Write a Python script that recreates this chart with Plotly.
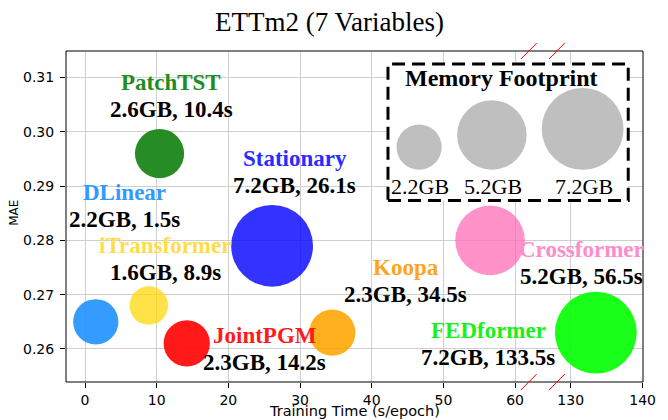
import math
import plotly.graph_objects as go

# ---- data -------------------------------------------------------------
models = ["PatchTST", "DLinear", "iTransformer", "JointPGM",
          "Stationary", "Koopa", "Crossformer", "FEDformer"]
train_time = [10.4, 1.5, 8.9, 14.2, 26.1, 34.5, 56.5, 133.5]   # s/epoch
memory_gb = [2.6, 2.2, 1.6, 2.3, 7.2, 2.3, 5.2, 7.2]
mae = [0.296, 0.265, 0.268, 0.261, 0.279, 0.263, 0.280, 0.263]

footprint_gb = [2.2, 5.2, 7.2]
x_ticks_low = [0, 10, 20, 30, 40, 50, 60]
x_ticks_high = [130, 140]
y_ticks = [0.26, 0.27, 0.28, 0.29, 0.30, 0.31]

# ---- styles -----------------------------------------------------------
fill_colors = {
    "PatchTST": "rgba(34,139,34,0.98)",
    "DLinear": "rgba(30,144,255,0.9)",
    "iTransformer": "rgba(255,215,0,0.72)",
    "JointPGM": "rgba(255,0,0,0.9)",
    "Stationary": "rgba(0,0,255,0.8)",
    "Koopa": "rgba(255,165,0,0.88)",
    "Crossformer": "rgba(255,105,180,0.72)",
    "FEDformer": "rgba(0,255,0,0.9)",
}
text_colors = {
    "PatchTST": "#228B22",
    "DLinear": "#3399FF",
    "iTransformer": "#FFDC48",
    "JointPGM": "#FF1A1A",
    "Stationary": "#2B2BFF",
    "Koopa": "#FFA51C",
    "Crossformer": "#FF8CC8",
    "FEDformer": "#1AF01A",
}
# label placement: (dx, name_up) in pixels relative to the bubble centre
label_offsets = {
    "PatchTST": (11.5, 71),
    "DLinear": (29, 129.5),
    "iTransformer": (16.5, 60),
    "JointPGM": (78, 7.5),
    "Stationary": (22.5, 87.5),
    "Koopa": (73.5, 65),
    "Crossformer": (92, -9),
    "FEDformer": (-107.5, 2.5),
}
LINE_GAP = 27

SERIF = "Liberation Serif, Times New Roman, serif"
SANS = "DejaVu Sans, sans-serif"

PX_PER_SQRT_GB = 15.25                       # bubble radius per sqrt(GB)
SIZEREF = 1.0 / (2 * PX_PER_SQRT_GB ** 2)    # plotly area mode: r = sqrt(s / (2*sizeref))

W, H = 668, 420
M_L, M_R, M_T, M_B = 66, 16, 51, 37
PLOT_W = W - M_L - M_R
PLOT_H = H - M_T - M_B
SPLIT = 0.826                                # paper x where the axis break sits
BREAK_LO, BREAK_HI = 60, 130

fig = go.Figure()

# ---- bubbles ----------------------------------------------------------
annotations = []
for name, t, mem, err in zip(models, train_time, memory_gb, mae):
    xa = "x" if t <= BREAK_LO else "x2"
    fig.add_trace(go.Scatter(
        x=[t], y=[err], xaxis=xa, yaxis="y", mode="markers",
        marker=dict(size=[mem], sizemode="area", sizeref=SIZEREF, opacity=1,
                    color=fill_colors[name], line=dict(width=0)),
        cliponaxis=False, hoverinfo="skip", showlegend=False,
    ))
    dx, up = label_offsets[name]
    annotations.append(dict(
        x=t, y=err, xref=xa, yref="y", xshift=dx, yshift=up,
        text=f"<b>{name}</b>", showarrow=False,
        font=dict(family=SERIF, size=23, color=text_colors[name]),
    ))
    annotations.append(dict(
        x=t, y=err, xref=xa, yref="y", xshift=dx, yshift=up - LINE_GAP,
        text=f"<b>{mem:.1f}GB, {t:g}s</b>", showarrow=False,
        font=dict(family=SERIF, size=23, color="black"),
    ))

# ---- memory footprint key (inset axis measured in pixels) -------------
BOX = dict(x0=393, x1=637, y0=64, y1=201)     # pixel box in the page
box_w = BOX["x1"] - BOX["x0"]
box_h = BOX["y1"] - BOX["y0"]
key_radii = [PX_PER_SQRT_GB * math.sqrt(g) for g in footprint_gb]
key_x, edge = [], 9.0
for r in key_radii:
    key_x.append(edge + r)
    edge += 2 * r + 16.5
key_base = 31.0
key_y = [key_base + r for r in key_radii]

fig.add_trace(go.Scatter(
    x=key_x, y=key_y, xaxis="x3", yaxis="y3", mode="markers",
    marker=dict(size=footprint_gb, sizemode="area", sizeref=SIZEREF, opacity=1,
                color="rgba(128,128,128,0.5)", line=dict(width=0)),
    cliponaxis=False, hoverinfo="skip", showlegend=False,
))
for gx, g in zip(key_x, footprint_gb):
    annotations.append(dict(
        x=gx + 1, y=14, xref="x3", yref="y3", text=f"{g:.1f}GB",
        showarrow=False, font=dict(family=SERIF, size=22, color="black"),
    ))
annotations.append(dict(
    x=115, y=box_h - 14, xref="x3", yref="y3", text="<b>Memory Footprint</b>",
    showarrow=False, font=dict(family=SERIF, size=24, color="black"),
))

# ---- titles -----------------------------------------------------------
def px_to_paper_x(px):
    return (px - M_L) / PLOT_W

def px_to_paper_y(py):
    return (H - M_B - py) / PLOT_H

annotations += [
    dict(x=px_to_paper_x(334), y=px_to_paper_y(22), xref="paper", yref="paper",
         text="ETTm2 (7 Variables)", showarrow=False, yanchor="middle",
         font=dict(family=SERIF, size=27, color="black")),
    dict(x=0.5, y=px_to_paper_y(412), xref="paper", yref="paper",
         text="Training Time (s/epoch)", showarrow=False, yanchor="middle",
         font=dict(family=SANS, size=14.5, color="black")),
    dict(x=px_to_paper_x(12.5), y=px_to_paper_y(213), xref="paper", yref="paper",
         xanchor="center", yanchor="middle",
         text="MAE", textangle=-90, showarrow=False,
         font=dict(family=SANS, size=12, color="black")),
]

# ---- frame, key box, break marks --------------------------------------
shapes = [
    dict(type="rect", xref="paper", yref="paper", x0=0, x1=1, y0=0, y1=1,
         line=dict(color="black", width=1), layer="above"),
    dict(type="rect", xref="paper", yref="paper",
         x0=px_to_paper_x(BOX["x0"]), x1=px_to_paper_x(BOX["x1"]),
         y0=px_to_paper_y(BOX["y1"]), y1=px_to_paper_y(BOX["y0"]),
         line=dict(color="black", width=3, dash="13px,7px"), layer="above"),
]
split_px = M_L + SPLIT * PLOT_W
for edge_py in (M_T, H - M_B):
    for off in (-14, 14.5):
        cx = split_px + off
        shapes.append(dict(
            type="line", xref="paper", yref="paper",
            x0=px_to_paper_x(cx - 8), x1=px_to_paper_x(cx + 8),
            y0=px_to_paper_y(edge_py + 8), y1=px_to_paper_y(edge_py - 8),
            line=dict(color="#ff0000", width=1), layer="above"))

axis_common = dict(
    showgrid=True, gridcolor="#cfcfcf", gridwidth=1, zeroline=False,
    showline=False, ticks="outside", ticklen=5, tickwidth=1, tickcolor="black",
    tickfont=dict(family=SANS, size=14, color="black"),
)

fig.update_layout(
    width=W, height=H,
    margin=dict(l=M_L, r=M_R, t=M_T, b=M_B),
    paper_bgcolor="white", plot_bgcolor="white",
    xaxis=dict(domain=[0, SPLIT], range=[-2.65, 63.84], anchor="y",
               tickvals=x_ticks_low, **axis_common),
    xaxis2=dict(domain=[SPLIT, 1], range=[126.1, 140.05], anchor="y",
                tickvals=x_ticks_high, **axis_common),
    yaxis=dict(range=[0.2539, 0.3149], anchor="x", tickvals=y_ticks,
               tickformat=".2f", ticklabelstandoff=3, **axis_common),
    xaxis3=dict(domain=[px_to_paper_x(BOX["x0"]), px_to_paper_x(BOX["x1"])],
                range=[0, box_w], anchor="y3", visible=False, fixedrange=True),
    yaxis3=dict(domain=[px_to_paper_y(BOX["y1"]), px_to_paper_y(BOX["y0"])],
                range=[0, box_h], anchor="x3", visible=False, fixedrange=True),
    annotations=annotations,
    shapes=shapes,
    showlegend=False,
)

fig.write_html("out.html", config={"displayModeBar": False})
